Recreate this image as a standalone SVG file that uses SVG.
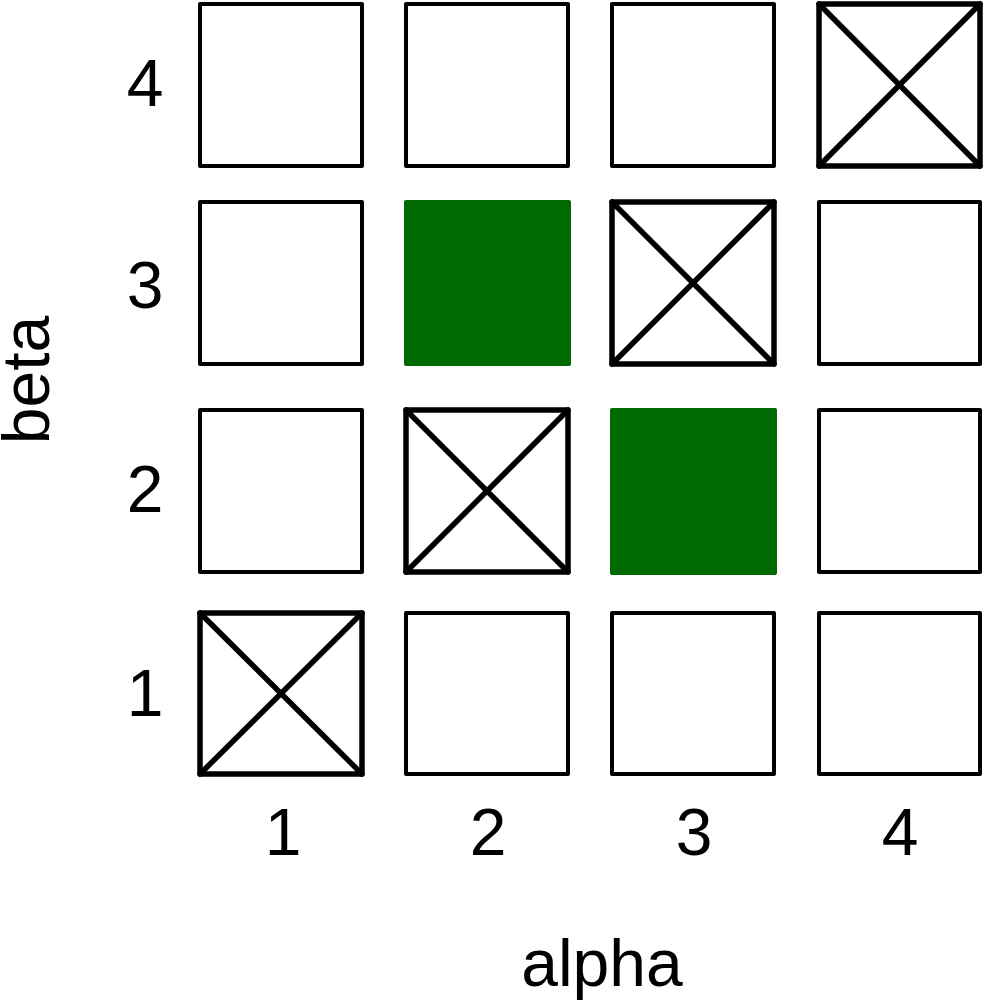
<svg xmlns="http://www.w3.org/2000/svg" width="985" height="1002" viewBox="0 0 985 1002">
<style>
.cell{fill:#fff;stroke:#000;stroke-width:4;stroke-linejoin:round}
.xcell{fill:#fff;stroke:#000;stroke-width:5.5;stroke-linejoin:round;stroke-linecap:round}
.green{fill:#006a00}
.lbl{font-family:"Liberation Sans",Arial,sans-serif;font-size:66px;fill:#000;text-anchor:middle}
</style>
<rect width="985" height="1002" fill="#fff"/>
<g id="row4">
<rect class="cell" x="200" y="4" width="162" height="162"/>
<rect class="cell" x="406" y="4" width="162" height="162"/>
<rect class="cell" x="612" y="4" width="162" height="162"/>
<g class="xcell"><rect x="819" y="4" width="161" height="162"/><path d="M819 4L980 166M980 4L819 166"/></g>
</g>
<g id="row3">
<rect class="cell" x="200" y="202" width="162" height="162"/>
<rect class="green" x="404" y="200" width="167" height="166" rx="2"/>
<g class="xcell"><rect x="612" y="202" width="162" height="162"/><path d="M612 202L774 364M774 202L612 364"/></g>
<rect class="cell" x="819" y="202" width="161" height="162"/>
</g>
<g id="row2">
<rect class="cell" x="200" y="410" width="162" height="162"/>
<g class="xcell"><rect x="406" y="410" width="162" height="162"/><path d="M406 410L568 572M568 410L406 572"/></g>
<rect class="green" x="610" y="408" width="167" height="167" rx="2"/>
<rect class="cell" x="819" y="410" width="161" height="162"/>
</g>
<g id="row1">
<g class="xcell"><rect x="200" y="613" width="162" height="161"/><path d="M200 613L362 774M362 613L200 774"/></g>
<rect class="cell" x="406" y="613" width="162" height="161"/>
<rect class="cell" x="612" y="613" width="162" height="161"/>
<rect class="cell" x="819" y="613" width="161" height="161"/>
</g>
<g id="labels">
<text class="lbl" x="145" y="106">4</text>
<text class="lbl" x="145" y="308">3</text>
<text class="lbl" x="145" y="512">2</text>
<text class="lbl" x="145" y="716">1</text>
<text class="lbl" x="283" y="855">1</text>
<text class="lbl" x="488" y="855">2</text>
<text class="lbl" x="694" y="855">3</text>
<text class="lbl" x="900" y="855">4</text>
<text class="lbl" x="602" y="986">alpha</text>
<text class="lbl" transform="translate(49 380) rotate(-90)">beta</text>
</g>
</svg>
